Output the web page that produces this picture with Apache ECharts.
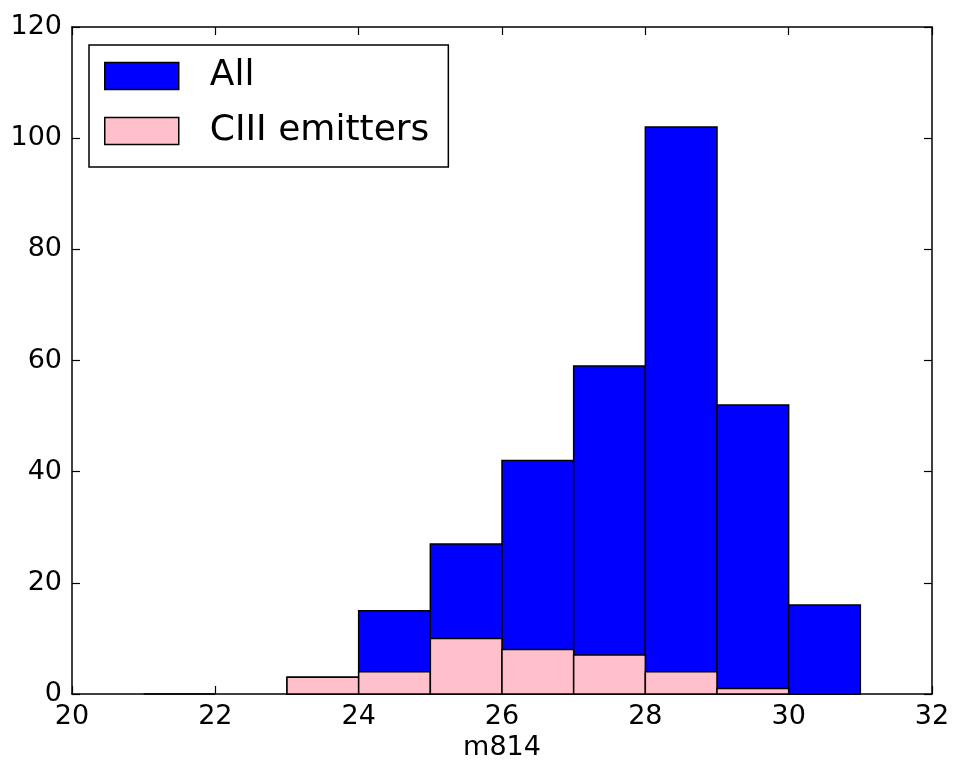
<!DOCTYPE html>
<html>
<head>
<meta charset="utf-8">
<script src="https://cdn.jsdelivr.net/npm/echarts@6/dist/echarts.min.js"></script>
<style>
  html, body { margin: 0; padding: 0; background: #fff; }
  #main { width: 953px; height: 765px; }
</style>
</head>
<body>
<div id="main"></div>
<script>
// histogram bin edges (m814), one bin per magnitude
var binEdges = [21, 22, 23, 24, 25, 26, 27, 28, 29, 30, 31];
// counts per bin, null = no bar drawn
var allCounts = [0, null, 3, 15, 27, 42, 59, 102, 52, 16];
var ciiiCounts = [null, null, 3, 4, 10, 8, 7, 4, 1, 0];

function toBins(counts) {
  var out = [];
  for (var i = 0; i < counts.length; i++) {
    if (counts[i] === null) continue;
    out.push([binEdges[i], binEdges[i + 1], counts[i]]);
  }
  return out;
}

function renderBin(params, api) {
  var p0 = api.coord([api.value(0), api.value(2)]);
  var p1 = api.coord([api.value(1), 0]);
  return {
    type: 'rect',
    shape: { x: p0[0], y: p0[1], width: p1[0] - p0[0], height: p1[1] - p0[1] },
    style: { fill: api.visual('color'), stroke: '#000', lineWidth: 1.5 }
  };
}

var font = 'DejaVu Sans';
var myChart = echarts.init(document.getElementById('main'));

var tickOpts = { show: true, inside: true, length: 8, lineStyle: { color: '#000', width: 1.2 } };

myChart.setOption({
  animation: false,
  textStyle: { fontFamily: font },
  grid: { left: 72, right: 21, top: 27, bottom: 71, outerBoundsMode: 'none', containLabel: false },
  legend: {
    left: 89, top: 45,
    orient: 'vertical',
    icon: 'rect',
    itemWidth: 74, itemHeight: 27, itemGap: 19,
    padding: [13, 19, 18, 15],
    borderColor: '#000', borderWidth: 1.5, borderRadius: 0,
    itemStyle: { borderColor: '#000', borderWidth: 1.5 },
    textStyle: { fontFamily: font, fontSize: 36, color: '#000', padding: [0, 0, 0, 26] },
    data: ['All', 'CIII emitters']
  },
  xAxis: [{
    type: 'value', min: 20, max: 32, interval: 2,
    name: 'm814', nameLocation: 'middle', nameGap: 37,
    nameTextStyle: { fontFamily: font, fontSize: 27, color: '#000' },
    axisLine: { show: true, onZero: false, lineStyle: { color: '#000', width: 1.5 } },
    axisTick: tickOpts,
    axisLabel: { fontFamily: font, fontSize: 27, color: '#000', margin: 9 },
    splitLine: { show: false }
  }, {
    type: 'value', min: 20, max: 32, interval: 2, position: 'top',
    axisLine: { show: true, onZero: false, lineStyle: { color: '#000', width: 1.5 } },
    axisTick: tickOpts, axisLabel: { show: false }, splitLine: { show: false }
  }],
  yAxis: [{
    type: 'value', min: 0, max: 120, interval: 20,
    axisLine: { show: true, onZero: false, lineStyle: { color: '#000', width: 1.5 } },
    axisTick: tickOpts,
    axisLabel: { fontFamily: font, fontSize: 27, color: '#000', margin: 10 },
    splitLine: { show: false }
  }, {
    type: 'value', min: 0, max: 120, interval: 20, position: 'right',
    axisLine: { show: true, onZero: false, lineStyle: { color: '#000', width: 1.5 } },
    axisTick: tickOpts, axisLabel: { show: false }, splitLine: { show: false }
  }],
  series: [{
    name: 'All',
    type: 'custom',
    renderItem: renderBin,
    itemStyle: { color: '#0000ff' },
    encode: { x: [0, 1], y: 2 },
    data: toBins(allCounts),
    z: 2
  }, {
    name: 'CIII emitters',
    type: 'custom',
    renderItem: renderBin,
    itemStyle: { color: '#ffc0cb' },
    encode: { x: [0, 1], y: 2 },
    data: toBins(ciiiCounts),
    z: 3
  }]
});
</script>
</body>
</html>
